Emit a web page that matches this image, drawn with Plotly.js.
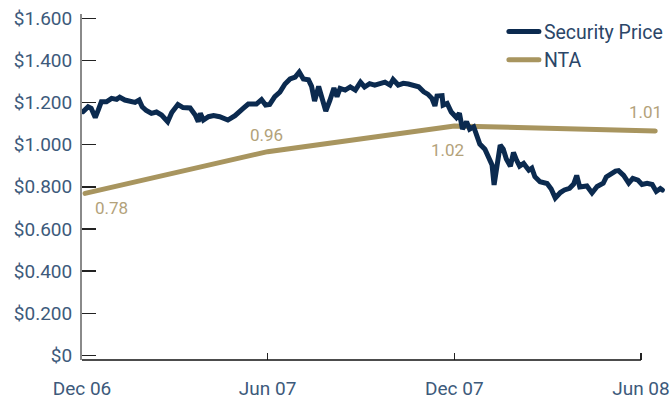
<!DOCTYPE html>
<html>
<head>
<meta charset="utf-8">
<script src="https://cdn.plot.ly/plotly-3.0.1.min.js"></script>
<style>
html,body{margin:0;padding:0;background:#fff;}
#chart{width:670px;height:401px;}
.scatterlayer path.js-line{stroke-linecap:round;}
.legend path.js-line{stroke-linecap:round;}
</style>
</head>
<body>
<div id="chart"></div>
<script>
// Security price
const priceDates = [
 '2006-12-02','2006-12-07','2006-12-10','2006-12-14','2006-12-17','2006-12-20','2006-12-25','2006-12-30',
 '2007-01-04','2007-01-07','2007-01-12','2007-01-17','2007-01-22','2007-01-26','2007-01-29',
 '2007-02-02','2007-02-07','2007-02-12','2007-02-17','2007-02-23','2007-02-27',
 '2007-03-05','2007-03-10','2007-03-17','2007-03-22','2007-03-25','2007-03-27','2007-03-30',
 '2007-04-04','2007-04-09','2007-04-15','2007-04-23','2007-04-30',
 '2007-05-08','2007-05-13','2007-05-21','2007-05-26','2007-05-30',
 '2007-06-03','2007-06-08','2007-06-13','2007-06-18','2007-06-23','2007-06-28',
 '2007-07-02','2007-07-06','2007-07-11','2007-07-14','2007-07-17','2007-07-21','2007-07-24','2007-07-28',
 '2007-08-01','2007-08-05','2007-08-08','2007-08-11','2007-08-16','2007-08-21','2007-08-26','2007-08-31',
 '2007-09-04','2007-09-09','2007-09-14','2007-09-19','2007-09-24','2007-09-29',
 '2007-10-02','2007-10-07','2007-10-12','2007-10-17','2007-10-22','2007-10-27',
 '2007-11-01','2007-11-05','2007-11-09','2007-11-12','2007-11-14','2007-11-19','2007-11-20','2007-11-24','2007-11-28',
 '2007-12-03','2007-12-06','2007-12-09','2007-12-13','2007-12-16','2007-12-20','2007-12-23','2007-12-26','2007-12-31',
 '2008-01-03','2008-01-07','2008-01-09','2008-01-12','2008-01-15','2008-01-18','2008-01-21','2008-01-25','2008-01-28','2008-01-31',
 '2008-02-03','2008-02-07','2008-02-12','2008-02-15','2008-02-18','2008-02-23',
 '2008-03-01','2008-03-05','2008-03-09','2008-03-14','2008-03-18','2008-03-23','2008-03-27','2008-03-30',
 '2008-04-02','2008-04-09','2008-04-14','2008-04-19','2008-04-25','2008-04-28',
 '2008-05-03','2008-05-07','2008-05-10','2008-05-15','2008-05-20','2008-05-24','2008-05-29',
 '2008-06-02','2008-06-07','2008-06-12','2008-06-16','2008-06-20','2008-06-22'
];
const priceValues = [
 1.157,1.180,1.173,1.129,1.165,1.204,1.204,1.220,
 1.215,1.225,1.212,1.209,1.201,1.212,1.180,
 1.162,1.149,1.155,1.141,1.109,1.153,
 1.191,1.176,1.174,1.141,1.109,1.149,1.117,
 1.133,1.138,1.133,1.117,1.138,
 1.172,1.193,1.193,1.214,1.188,
 1.191,1.228,1.250,1.288,1.312,1.321,
 1.345,1.312,1.308,1.278,1.207,1.276,1.217,1.160,
 1.210,1.269,1.228,1.267,1.259,1.274,1.259,1.297,
 1.274,1.290,1.283,1.291,1.297,1.283,
 1.309,1.283,1.291,1.288,1.283,1.275,
 1.251,1.240,1.220,1.184,1.231,1.233,1.188,1.196,1.155,
 1.129,1.149,1.074,1.109,1.074,1.085,1.051,1.003,0.979,
 0.946,0.904,0.809,0.913,0.998,0.979,0.932,0.898,0.963,0.927,
 0.898,0.911,0.879,0.889,0.848,0.824,
 0.816,0.790,0.747,0.773,0.785,0.793,0.813,0.854,
 0.799,0.804,0.771,0.802,0.817,0.847,
 0.866,0.875,0.877,0.854,0.818,0.840,0.832,
 0.811,0.817,0.811,0.778,0.792,0.785
];

// NTA (line positions) and its printed labels
const ntaDates = ['2006-12-04','2007-06-01','2007-12-01','2008-06-15'];
const ntaValues = [0.769, 0.967, 1.089, 1.065];
const ntaLabels = ['0.78','0.96','1.02','1.01'];

// Axis ticks
const xTickVals = ['2006-12-01','2007-06-01','2007-12-01','2008-06-01'];
const xTickText = ['Dec 06','Jun 07','Dec 07','Jun 08'];
const yTickVals = [0,0.2,0.4,0.6,0.8,1.0,1.2,1.4,1.6];
const yTickText = ['$0','$0.200','$0.400','$0.600','$0.800','$1.000','$1.200','$1.400','$1.600'];

const navy = '#0b2a4f';
const tan = '#a8955f';
const labelTan = '#b3a27a';
const textBlue = '#3d5a7b';

const traces = [
  {x: ntaDates, y: ntaValues, type:'scatter', mode:'lines', name:'NTA',
   line:{color:tan, width:5}},
  {x: priceDates, y: priceValues, type:'scatter', mode:'lines', name:'Security Price',
   line:{color:navy, width:5, shape:'linear'}}
];

const labelShifts = [[26,-15],[-1,17],[-7,-24],[-10,19]];
const annotations = ntaLabels.map((t,i)=>({
  x: ntaDates[i], y: ntaValues[i], xref:'x', yref:'y', text:t, showarrow:false,
  xshift: labelShifts[i][0], yshift: labelShifts[i][1],
  font:{family:'Roboto', size:17, color:labelTan}
}));

const layout = {
  width:670, height:401,
  margin:{l:82, r:2, t:14, b:41},
  paper_bgcolor:'#fff', plot_bgcolor:'#fff',
  font:{family:'Roboto', size:19, color:textBlue},
  showlegend:true,
  legend:{x:0.72, y:1.005, xanchor:'left', yanchor:'top', traceorder:'reversed',
          font:{family:'Roboto', size:19.5, color:'#2b4668'}, bgcolor:'rgba(0,0,0,0)',
          tracegroupgap:0, itemwidth:30},
  xaxis:{type:'date', range:['2006-12-01','2008-06-27 12:00'],
         tickvals:xTickVals, ticktext:xTickText,
         showgrid:false, zeroline:false, showline:false,
         ticks:'inside', ticklen:7, tickwidth:1.5, tickcolor:'#222',
         ticklabelstandoff:15,
         tickfont:{family:'Roboto', size:19, color:textBlue}},
  yaxis:{range:[-0.0218,1.6203], tickvals:yTickVals, ticktext:yTickText,
         showgrid:false, zeroline:false, showline:true, linecolor:'#8a8a8a', linewidth:2,
         ticks:'inside', ticklen:14, tickwidth:1.5, tickcolor:'#222',
         ticklabelstandoff:4,
         tickfont:{family:'Roboto', size:19, color:textBlue}},
  shapes:[{type:'line', xref:'x', yref:'paper', x0:xTickVals[0], x1:xTickVals[3], y0:0, y1:0,
           line:{color:'#111', width:1.5}, layer:'above'}],
  annotations: annotations
};

Plotly.newPlot('chart', traces, layout, {displayModeBar:false, staticPlot:true});
</script>
</body>
</html>
